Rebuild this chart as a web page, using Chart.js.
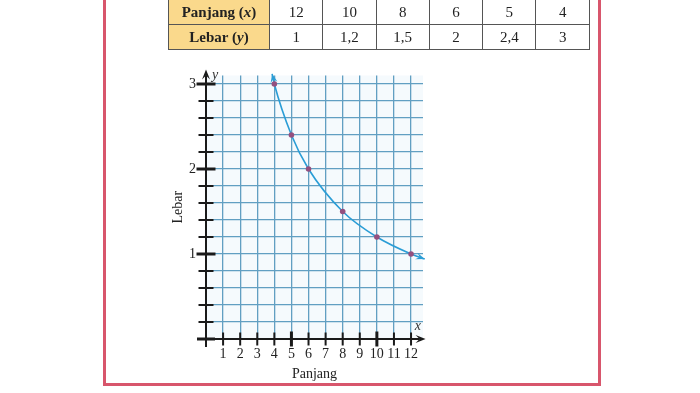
<!DOCTYPE html>
<html>
<head>
<meta charset="utf-8">
<script src="https://cdn.jsdelivr.net/npm/chart.js@4/dist/chart.umd.min.js"></script>
<style>
  html, body { margin: 0; padding: 0; background: #fff; }
  body { width: 700px; height: 393px; position: relative; overflow: hidden; }
  #frame { position: absolute; left: 103px; top: -10px; width: 492px; height: 390px;
           border: 3px solid #d8566c; box-sizing: content-box; z-index: 3; pointer-events: none; }
  #tbl { position: absolute; left: 168px; top: -1px; border-collapse: collapse; z-index: 2;
         font-family: "Liberation Serif", "DejaVu Serif", serif; font-size: 15px; color: #222; }
  #tbl td { border: 1.5px solid #555; height: 24px; padding: 0; text-align: center; width: 52.3px; }
  #tbl td.h { background: #fad98c; font-weight: bold; width: 100px; }
  #c { position: absolute; left: 0; top: 0; }
</style>
</head>
<body>
<div id="frame"></div>
<table id="tbl"><tbody id="tb"></tbody></table>
<canvas id="c" width="700" height="393"></canvas>
<script>
// ---- data ----
const panjang = [12, 10, 8, 6, 5, 4];           // x
const lebar   = [1, 1.2, 1.5, 2, 2.4, 3];       // y
const rowLabels = ['Panjang (<i>x</i>)', 'Lebar (<i>y</i>)'];
const xTickLabels = [1, 2, 3, 4, 5, 6, 7, 8, 9, 10, 11, 12];
const yTickLabels = [1, 2, 3];
const yGridValues = [0, 0.2, 0.4, 0.6, 0.8, 1, 1.2, 1.4, 1.6, 1.8, 2, 2.2, 2.4, 2.6, 2.8, 3];
const xGridValues = [0, 1, 2, 3, 4, 5, 6, 7, 8, 9, 10, 11, 12];
const curveStart = { x: 3.87, y: 3.12 };   // arrow tip, upper end of the curve
const curveEnd   = { x: 12.8, y: 0.94 };   // arrow tip, right end of the curve
const xAxisTitle = 'Panjang';
const yAxisTitle = 'Lebar';

// ---- table ----
const fmt = v => String(v).replace('.', ',');
const tb = document.getElementById('tb');
[panjang, lebar].forEach((arr, i) => {
  const tr = document.createElement('tr');
  const th = document.createElement('td'); th.className = 'h'; th.innerHTML = rowLabels[i]; tr.appendChild(th);
  arr.forEach(v => { const td = document.createElement('td'); td.textContent = fmt(v); tr.appendChild(td); });
  tb.appendChild(tr);
});

// ---- chart ----
const pts = panjang.map((x, i) => ({ x, y: lebar[i] })).sort((a, b) => a.x - b.x);
const curve = [curveStart, ...pts, curveEnd];
const serif = '"Liberation Serif", "DejaVu Serif", serif';
const gridColor = '#619fc2';

function arrowHead(ctx, fx, fy, tx, ty, len, half) {
  const ang = Math.atan2(ty - fy, tx - fx);
  ctx.beginPath();
  ctx.moveTo(tx, ty);
  ctx.lineTo(tx - len * Math.cos(ang) + half * Math.sin(ang), ty - len * Math.sin(ang) - half * Math.cos(ang));
  ctx.lineTo(tx - len * 0.6 * Math.cos(ang), ty - len * 0.6 * Math.sin(ang));
  ctx.lineTo(tx - len * Math.cos(ang) - half * Math.sin(ang), ty - len * Math.sin(ang) + half * Math.cos(ang));
  ctx.closePath();
  ctx.fill();
}

const axesPlugin = {
  id: 'axesPlugin',
  beforeDraw(chart) {
    const { ctx, chartArea: a } = chart;
    ctx.save();
    ctx.fillStyle = '#f5fafd';
    ctx.fillRect(a.left, a.top, a.right - a.left, a.bottom - a.top);
    ctx.restore();
  },
  beforeDatasetsDraw(chart) {
    const { ctx, scales: { x, y } } = chart;
    const x0 = x.getPixelForValue(0), y0 = y.getPixelForValue(0);
    ctx.save();
    ctx.strokeStyle = '#1a1a1a'; ctx.fillStyle = '#1a1a1a';
    // y axis
    const yTop = y.getPixelForValue(3.17);
    ctx.lineWidth = 2;
    ctx.beginPath(); ctx.moveTo(x0, y0 + 8); ctx.lineTo(x0, yTop + 6); ctx.stroke();
    arrowHead(ctx, x0, y0, x0, yTop, 10, 4);
    // x axis
    const xRight = x.getPixelForValue(12.85);
    ctx.beginPath(); ctx.moveTo(x0 - 8, y0); ctx.lineTo(xRight - 6, y0); ctx.stroke();
    arrowHead(ctx, x0, y0, xRight, y0, 10, 4);
    // y ticks
    yGridValues.forEach(v => {
      if (v === 0) return;
      const py = y.getPixelForValue(v);
      const major = yTickLabels.includes(v);
      ctx.lineWidth = major ? 3 : 2;
      const hw = major ? 9.5 : 7.5;
      ctx.beginPath(); ctx.moveTo(x0 - hw, py); ctx.lineTo(x0 + hw, py); ctx.stroke();
    });
    // x ticks
    xGridValues.forEach(v => {
      if (v === 0) return;
      const px = x.getPixelForValue(v);
      const major = (v === 5 || v === 10);
      ctx.lineWidth = major ? 3 : 2;
      const hh = major ? 7.5 : 6.5;
      ctx.beginPath(); ctx.moveTo(px, y0 - hh); ctx.lineTo(px, y0 + hh); ctx.stroke();
    });
    // origin cross (thicker)
    ctx.lineWidth = 3;
    ctx.beginPath(); ctx.moveTo(x0 - 9, y0); ctx.lineTo(x0 + 9, y0); ctx.stroke();
    // axis letters
    ctx.font = 'italic 14px ' + serif;
    ctx.textAlign = 'center'; ctx.textBaseline = 'middle';
    ctx.fillStyle = '#333';
    ctx.fillText('y', x0 + 9, y.getPixelForValue(3.1));
    ctx.fillText('x', x.getPixelForValue(12.4), y.getPixelForValue(0.15));
    ctx.restore();
  },
  afterDatasetsDraw(chart) {
    const { ctx, scales: { x, y } } = chart;
    ctx.save();
    ctx.fillStyle = '#2a9dd6';
    const a0 = curve[1], s = curve[0];
    arrowHead(ctx, x.getPixelForValue(a0.x), y.getPixelForValue(a0.y), x.getPixelForValue(s.x), y.getPixelForValue(s.y), 9, 3.5);
    const b0 = curve[curve.length - 2], e = curve[curve.length - 1];
    arrowHead(ctx, x.getPixelForValue(b0.x), y.getPixelForValue(b0.y), x.getPixelForValue(e.x), y.getPixelForValue(e.y), 9, 3.5);
    ctx.restore();
  }
};

new Chart(document.getElementById('c'), {
  type: 'scatter',
  data: {
    datasets: [
      { data: curve, showLine: true, borderColor: '#2a9dd6', borderWidth: 1.6, pointRadius: 0,
        cubicInterpolationMode: 'monotone', clip: false, order: 2 },
      { data: pts, showLine: false, pointRadius: 2.8, pointBackgroundColor: '#94507f',
        pointBorderColor: '#94507f', pointBorderWidth: 0, clip: false, order: 1 }
    ]
  },
  options: {
    responsive: false, animation: false, devicePixelRatio: 1,
    layout: { padding: { left: 166, top: 75.5, right: 277, bottom: 10 } },
    plugins: { legend: { display: false }, tooltip: { enabled: false } },
    scales: {
      x: {
        type: 'linear', min: 0, max: 12.7,
        afterBuildTicks: s => { s.ticks = xGridValues.map(v => ({ value: v })); },
        afterFit: s => { s.height = 44; },
        border: { display: false },
        grid: { color: gridColor, lineWidth: 1.3, drawTicks: false },
        ticks: { padding: 7, maxRotation: 0, autoSkip: false, color: '#222',
                 font: { family: serif, size: 14 },
                 callback: v => xTickLabels.includes(v) ? String(v) : '' },
        title: { display: true, text: xAxisTitle, color: '#222', padding: 0,
                 font: { family: serif, size: 14 } }
      },
      y: {
        type: 'linear', min: 0, max: 3.1,
        afterBuildTicks: s => { s.ticks = yGridValues.map(v => ({ value: v })); },
        afterFit: s => { s.width = 40; },
        border: { display: false },
        grid: { color: gridColor, lineWidth: 1.3, drawTicks: false },
        ticks: { padding: 10, autoSkip: false, color: '#222',
                 font: { family: serif, size: 14 },
                 callback: v => yTickLabels.includes(v) ? String(v) : '' },
        title: { display: true, text: yAxisTitle, color: '#222', padding: { top: 4, bottom: 0 },
                 font: { family: serif, size: 14 } }
      }
    }
  },
  plugins: [axesPlugin]
});
</script>
</body>
</html>
